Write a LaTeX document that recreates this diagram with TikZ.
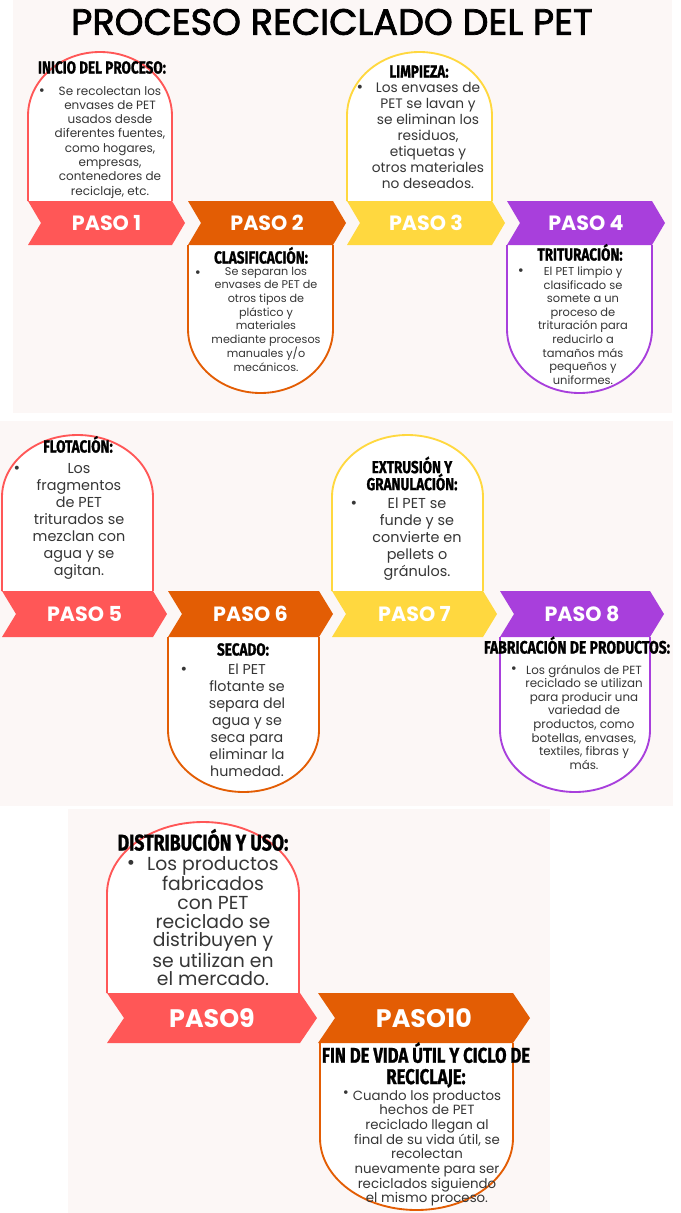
\documentclass[tikz,border=0pt]{standalone}
\usepackage{fontspec}
\setmainfont{Poppins}
\newfontfamily\headfont{Fira Sans}[FakeStretch=0.78,FakeBold=1]
\newfontfamily\titlefont{Poppins}[FakeBold=2]

\definecolor{coral}{HTML}{FF5757}
\definecolor{naranja}{HTML}{E35D04}
\definecolor{amarillo}{HTML}{FFD83F}
\definecolor{morado}{HTML}{A83FDC}
\definecolor{fondo}{HTML}{FCF7F6}
\definecolor{texto}{HTML}{363636}

\begin{document}
\begin{tikzpicture}[x=0.75pt,y=-0.75pt,
    arco/.style={draw=#1, line width=1.4pt, fill=white},
    paso/.style={text=white, inner sep=0pt, font=\bfseries\fontsize{#1}{#1}\selectfont},
    enc/.style={inner sep=0pt, anchor=base, font=\headfont\bfseries\fontsize{#1}{#1}\selectfont},
    vin/.style={inner sep=0pt, text=texto, font=\fontsize{#1}{#1}\selectfont},
    cuerpo/.style 2 args={inner sep=0pt, anchor=north, align=center, text=texto, font=\fontsize{#1}{#2}\selectfont}]
    \useasboundingbox (0,0) rectangle (681,1213);
    \fill[white] (0,0) rectangle (681,1213);
    \fill[fondo] (13,0) rectangle (672,413);
    \fill[fondo] (0,421) rectangle (673,806);
    \fill[fondo] (68,809) rectangle (550,1213);

    \node[font=\titlefont\fontsize{27.5}{27.5}\selectfont] (titulo) at (332,22) {PROCESO RECICLADO DEL PET};

    % arcos
    \foreach \L/\r/\c in {28/72/coral, 347/72.5/amarillo}
      \draw[arco=\c] (\L,201) -- (\L,116) arc[start angle=180, end angle=360, x radius=\r, y radius=64] -- (\L+2*\r,201);
    \foreach \L/\r/\c in {188/72.5/naranja, 507/72.5/morado}
      \draw[arco=\c] (\L,245) -- (\L,329) arc[start angle=180, end angle=0, x radius=\r, y radius=64] -- (\L+2*\r,245);
    \foreach \L/\r/\c in {2/75.5/coral, 332/75.5/amarillo}
      \draw[arco=\c] (\L,591) -- (\L,497) arc[start angle=180, end angle=360, x radius=\r, y radius=62] -- (\L+2*\r,591);
    \foreach \L/\r/\c in {168/75.5/naranja, 500/75/morado}
      \draw[arco=\c] (\L,637) -- (\L,730) arc[start angle=180, end angle=0, x radius=\r, y radius=62] -- (\L+2*\r,637);
    \draw[arco=coral] (107,993) -- (107,894) arc[start angle=180, end angle=360, x radius=96, y radius=72] -- (299,993);
    \draw[arco=naranja] (320,1043) -- (320,1138) arc[start angle=180, end angle=0, x radius=96.5, y radius=72] -- (513,1043);

    % flechas
    \foreach \n/\L/\W/\c in {1/28/157/coral, 2/188/158/naranja, 3/347/158/amarillo, 4/507/158/morado}{
      \fill[\c] (\L,201) -- (\L+\W-13,201) -- (\L+\W,223) -- (\L+\W-13,245) -- (\L,245) -- (\L+13,223) -- cycle;
      \node[paso=15.5] (paso\n) at (\L+\W/2,223) {PASO \n};
    }
    \foreach \n/\L/\W/\c in {5/2/165/coral, 6/168/165/naranja, 7/332/165/amarillo, 8/500/164/morado}{
      \fill[\c] (\L,591) -- (\L+\W-14,591) -- (\L+\W,614) -- (\L+\W-14,637) -- (\L,637) -- (\L+14,614) -- cycle;
      \node[paso=15.5] (paso\n) at (\L+\W/2,614) {PASO \n};
    }
    \foreach \n/\L/\W/\c in {9/107/210/coral, 10/318/212/naranja}{
      \fill[\c] (\L,993) -- (\L+\W-17,993) -- (\L+\W,1018) -- (\L+\W-17,1043) -- (\L,1043) -- (\L+17,1018) -- cycle;
      \node[paso=19] (paso\n) at (\L+\W/2,1018) {PASO\n};
    }

    % textos
    \node[enc=13] (enc1) at (102,73.5) {INICIO DEL PROCESO:};
    \node[vin=11] (vin1) at (42,92) {•};
    \node[cuerpo={9}{10.7}] (txt1) at (110,86) {Se recolectan los\\envases de PET\\usados desde\\diferentes fuentes,\\como hogares,\\empresas,\\contenedores de\\reciclaje, etc.};

    \node[enc=13] (enc2) at (261,263.5) {CLASIFICACIÓN:};
    \node[vin=11] (vin2) at (198,274) {•};
    \node[cuerpo={8.4}{10.3}] (txt2) at (266,266.5) {Se separan los\\envases de PET de\\otros tipos de\\plástico y\\materiales\\mediante procesos\\manuales y/o\\mecánicos.};

    \node[enc=13] (enc3) at (419,77.5) {LIMPIEZA:};
    \node[vin=12] (vin3) at (360,89) {•};
    \node[cuerpo={10.3}{12}] (txt3) at (428,82.5) {Los envases de\\PET se lavan y\\se eliminan los\\residuos,\\etiquetas y\\otros materiales\\no deseados.};

    \node[enc=13] (enc4) at (580,260.5) {TRITURACIÓN:};
    \node[vin=11] (vin4) at (521,272) {•};
    \node[cuerpo={8.6}{10.2}] (txt4) at (583,266.5) {El PET limpio y\\clasificado se\\somete a un\\proceso de\\trituración para\\reducirlo a\\tamaños más\\pequeños y\\uniformes.};

    \node[enc=13] (enc5) at (78,452.5) {FLOTACIÓN:};
    \node[vin=12] (vin5) at (17,470) {•};
    \node[cuerpo={10.8}{12.75}] (txt5) at (79,463) {Los\\fragmentos\\de PET\\triturados se\\mezclan con\\agua y se\\agitan.};

    \node[enc=13] (enc6) at (243,655.5) {SECADO:};
    \node[vin=12] (vin6) at (184,671) {•};
    \node[cuerpo={10.7}{12.75}] (txt6) at (247,664) {El PET\\flotante se\\separa del\\agua y se\\seca para\\eliminar la\\humedad.};

    \node[enc=13, anchor=center, align=center, font=\headfont\bfseries\fontsize{13}{12.75}\selectfont] (enc7) at (412,473.5) {EXTRUSIÓN Y\\GRANULACIÓN:};
    \node[vin=12] (vin7) at (354,505) {•};
    \node[cuerpo={10.8}{12.75}] (txt7) at (417,498) {El PET se\\funde y se\\convierte en\\pellets o\\gránulos.};

    \node[enc=13.4] (enc8) at (577,653.5) {FABRICACIÓN DE PRODUCTOS:};
    \node[vin=11] (vin8) at (514,670) {•};
    \node[cuerpo={8.9}{10.2}] (txt8) at (584,664.5) {Los gránulos de PET\\reciclado se utilizan\\para producir una\\variedad de\\productos, como\\botellas, envases,\\textiles, fibras y\\más.};

    \node[enc=17] (enc9) at (203,850.5) {DISTRIBUCIÓN Y USO:};
    \node[vin=15] (vin9) at (131,865) {•};
    \node[cuerpo={14.1}{14}] (txt9) at (213,856) {Los productos\\fabricados\\con PET\\reciclado se\\distribuyen y\\se utilizan en\\el mercado.};

    \node[enc=16, anchor=center, align=center, font=\headfont\bfseries\fontsize{16}{16}\selectfont] (enc10) at (426,1065) {FIN DE VIDA ÚTIL Y CICLO DE\\RECICLAJE:};
    \node[vin=11] (vin10) at (346,1094) {•};
    \node[cuerpo={10}{11}] (txt10) at (427,1090) {Cuando los productos\\hechos de PET\\reciclado llegan al\\final de su vida útil, se\\recolectan\\nuevamente para ser\\reciclados siguiendo\\el mismo proceso.};
  \end{tikzpicture}
\end{document}
